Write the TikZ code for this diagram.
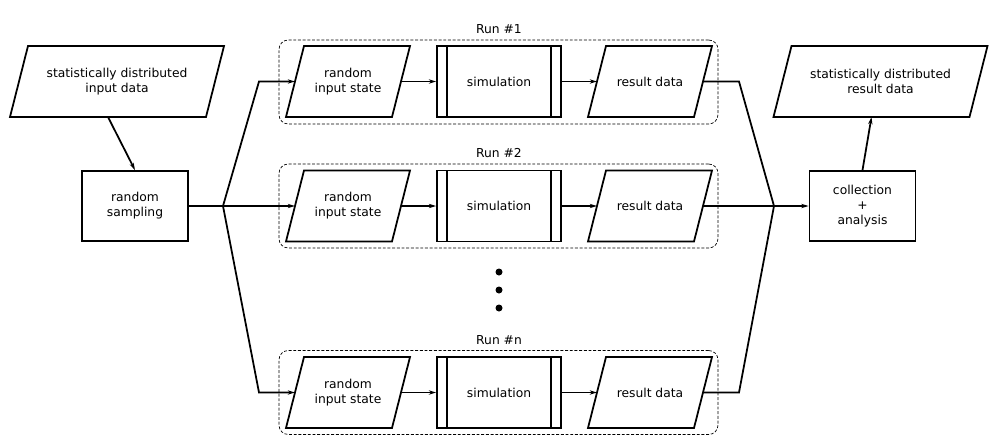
\documentclass[tikz,border=0pt]{standalone}
\usepackage{fontspec}
\setmainfont{DejaVu Sans}
\usetikzlibrary{arrows.meta}

\begin{document}
\begin{tikzpicture}[x=0.03cm,y=-0.03cm,>={Stealth[length=2.2mm,width=1.3mm]},
  font=\fontsize{10.5}{12.8}\selectfont,
  data/.style={minimum height=2.13cm,align=center,inner sep=0pt,outer sep=0pt,
    append after command={\pgfextra{
      \draw[line width=1.5pt,line join=miter] ([xshift=0.27cm]\tikzlastnode.north west) -- ([xshift=0.27cm]\tikzlastnode.north east)
        -- ([xshift=-0.27cm]\tikzlastnode.south east) -- ([xshift=-0.27cm]\tikzlastnode.south west) -- cycle;}}},
  wide/.style={data,minimum width=5.88cm},
  narrow/.style={data,minimum width=3.18cm},
  proc/.style={draw,line width=1.5pt,minimum width=3.18cm,minimum height=2.1cm,align=center},
  sim/.style={proc,minimum width=3.72cm,minimum height=2.13cm,
    path picture={
      \draw[line width=1.5pt] ([xshift=3mm]path picture bounding box.north west) -- ([xshift=3mm]path picture bounding box.south west);
      \draw[line width=1.5pt] ([xshift=-3mm]path picture bounding box.north east) -- ([xshift=-3mm]path picture bounding box.south east);}},
  run/.style={draw,dashed,dash pattern=on 2.5pt off 1.5pt,line width=0.6pt,rounded corners=8pt,
    minimum width=13.17cm,minimum height=2.52cm},
  line/.style={line width=1.5pt},
  flow/.style={line,->},
  dot/.style={circle,fill,inner sep=0pt,minimum size=0.21cm}]
  \useasboundingbox (0,0) rectangle (997,446);

  % groups of one run each
  \node[run] (run1) at (498.5,82) {};
  \node[run] (run2) at (498.5,206) {};
  \node[run] (runn) at (498.5,392.5) {};
  \node (t1) at (499,29) {Run \#1};
  \node (t2) at (499,153) {Run \#2};
  \node (tn) at (499,340) {Run \#n};

  \node[wide] (in) at (117,81.5) {statistically distributed\\input data};
  \node[proc] (samp) at (135,206) {random\\sampling};
  \node[proc] (coll) at (862.5,206) {collection\\+\\analysis};
  \node[wide] (out) at (880.5,81.5) {statistically distributed\\result data};

  \node[narrow] (rnd1) at (348,81.5) {random\\input state};
  \node[sim] (sim1) at (499,81.5) {simulation};
  \node[narrow] (res1) at (650,81.5) {result data};
  \node[narrow] (rnd2) at (348,206) {random\\input state};
  \node[sim] (sim2) at (499,206) {simulation};
  \node[narrow] (res2) at (650,206) {result data};
  \node[narrow] (rndn) at (348,392.5) {random\\input state};
  \node[sim] (simn) at (499,392.5) {simulation};
  \node[narrow] (resn) at (650,392.5) {result data};

  \node[dot] (d1) at (499,272) {};
  \node[dot] (d2) at (499,290) {};
  \node[dot] (d3) at (499,308) {};

  \coordinate (split) at (223,206);
  \coordinate (merge) at (774,206);

  \draw[flow] ([xshift=-0.27cm]in.south) -- (samp.north);
  \draw[line] (samp.east) -- (split);
  \draw[flow] (split) -- ([xshift=-1.08cm]rnd1.west) -- (rnd1.west);
  \draw[flow] (split) -- (rnd2.west);
  \draw[flow] (split) -- ([xshift=-1.08cm]rndn.west) -- (rndn.west);

  \draw[flow] (rnd1.east) -- (sim1.west);
  \draw[flow] (sim1.east) -- (res1.west);
  \draw[flow] (rnd2.east) -- (sim2.west);
  \draw[flow] (sim2.east) -- (res2.west);
  \draw[flow] (rndn.east) -- (simn.west);
  \draw[flow] (simn.east) -- (resn.west);

  \draw[line] (res1.east) -- ([xshift=1.08cm]res1.east) -- (merge);
  \draw[line] (res2.east) -- (merge);
  \draw[line] (resn.east) -- ([xshift=1.08cm]resn.east) -- (merge);
  \draw[flow] (merge) -- (coll.west);
  \draw[flow] (coll.north) -- ([xshift=-0.27cm]out.south);
\end{tikzpicture}
\end{document}
